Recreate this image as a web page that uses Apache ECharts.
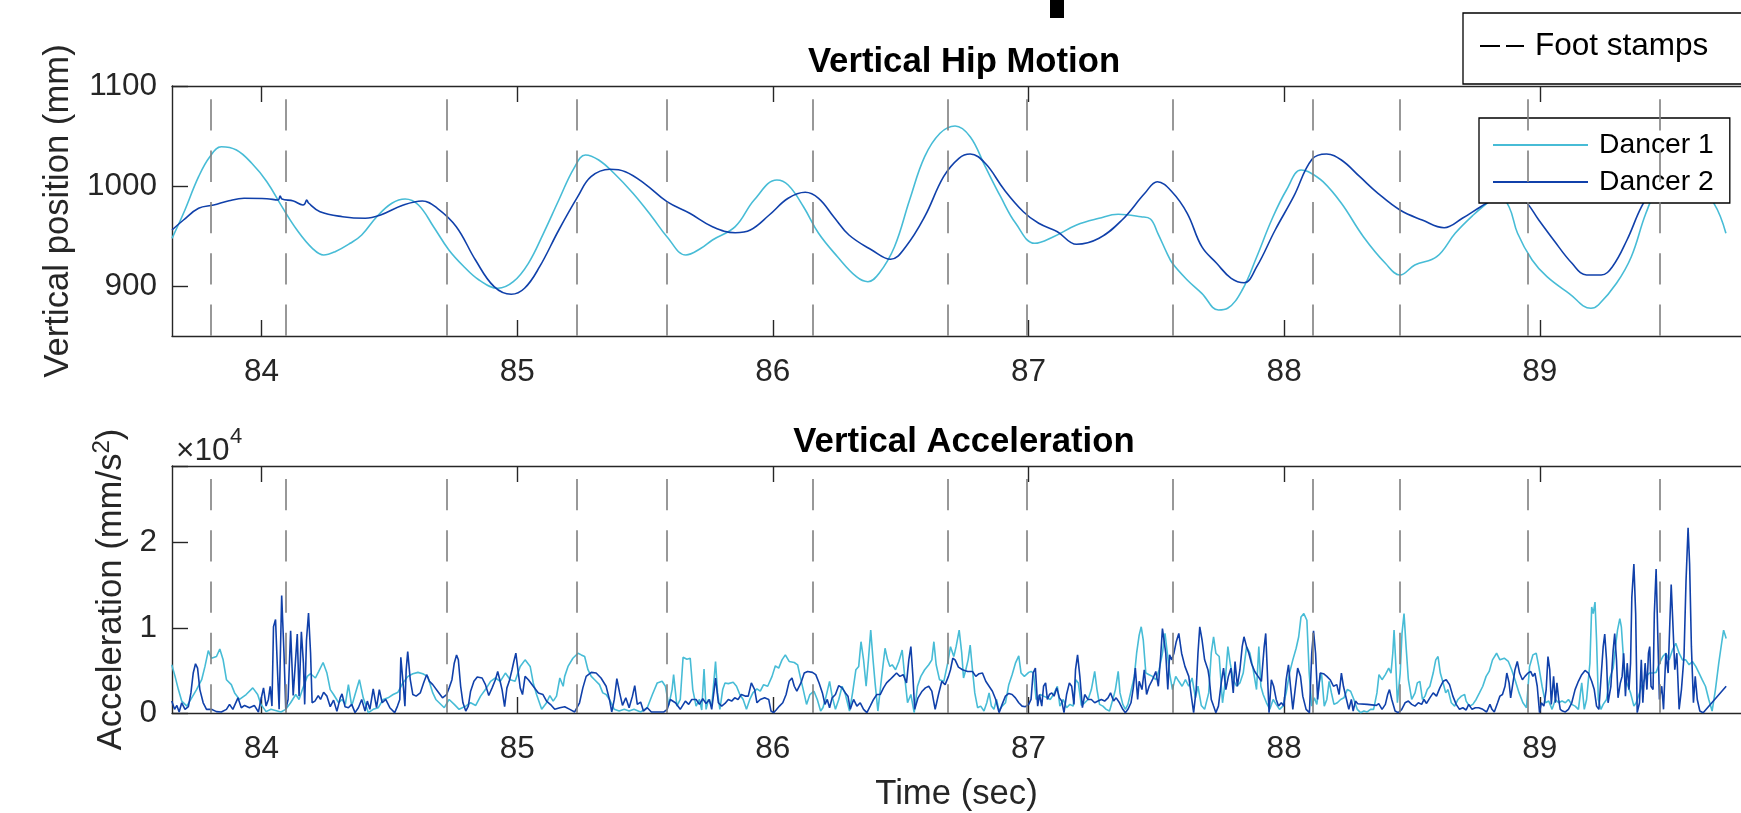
<!DOCTYPE html>
<html>
<head>
<meta charset="utf-8">
<title>Vertical Hip Motion and Acceleration</title>
<script src="https://cdn.jsdelivr.net/npm/echarts@6/dist/echarts.min.js"></script>
<style>
  html, body { margin: 0; padding: 0; background: #ffffff; }
  #main { width: 1741px; height: 813px; }
</style>
</head>
<body>
<div id="main"></div>
<script>
// ---- data ---------------------------------------------------------------
const timeTicks = [84, 85, 86, 87, 88, 89];
const hipTicks = [900, 1000, 1100];
const accTicksLabel = ['0', '1', '2'];

// foot stamp instants (sec)
const footStamps = [83.800, 84.095, 84.724, 85.235, 85.585, 86.156, 86.685,
                    86.994, 87.565, 88.110, 88.451, 88.954, 89.469];

// vertical hip position (mm) : [time, value]
const hipDancer1 = [
  [83.650,947.7],[83.695,972.7],[83.754,1009.3],[83.798,1029.3],[83.843,1039.3],[83.902,1036],
  [83.962,1022.7],[84.021,1004.3],[84.080,979.3],[84.139,956],[84.199,937.7],[84.243,931],
  [84.288,934.3],[84.347,942.7],[84.392,951],[84.451,969.3],[84.510,982.7],[84.562,987],
  [84.614,981],[84.673,959.3],[84.733,936],[84.792,919.3],[84.851,906],[84.925,897.7],
  [84.985,904.3],[85.044,922.7],[85.103,952.7],[85.163,986],[85.222,1017.7],[85.267,1031],
  [85.319,1026],[85.379,1012.7],[85.453,992.7],[85.527,969.3],[85.586,949.3],[85.660,931],
  [85.719,937.7],[85.764,946],[85.853,959.3],[85.927,986],[86.016,1006],[86.060,1001],
  [86.120,979.3],[86.179,952.7],[86.253,929.3],[86.327,909.3],[86.372,904.3],[86.416,912.7],
  [86.476,939.3],[86.535,986],[86.594,1029.3],[86.654,1052.7],[86.713,1060],[86.772,1049.3],
  [86.831,1019.3],[86.891,989.3],[86.950,962.7],[87.024,942.7],[87.098,949.3],[87.188,961],
  [87.276,967.7],[87.351,971.7],[87.440,969.3],[87.477,967],[87.506,952.7],[87.542,932.7],
  [87.563,922.7],[87.621,906],[87.678,892.7],[87.743,876],[87.779,877.7],[87.836,896],
  [87.893,929.3],[87.951,966],[88.009,996],[88.066,1016],[88.095,1014.3],[88.152,1004.3],
  [88.224,982.7],[88.310,949.3],[88.396,922.7],[88.453,911],[88.511,921],[88.597,929.3],
  [88.669,952.7],[88.740,971],[88.800,984],[88.841,990],[88.880,979],[88.913,952.7],
  [88.970,926],[89.028,909.3],[89.114,892.7],[89.200,877.7],[89.229,881],[89.300,902.7],
  [89.358,929.3],[89.415,972.7],[89.470,1003],[89.530,1016],[89.600,1005],[89.681,982.7],
  [89.728,952.7]
];
const hipDancer2 = [
  [83.650,956],[83.695,966],[83.754,977.7],[83.813,981],[83.873,985.3],[83.932,987.7],
  [84.021,987.3],[84.065,986],[84.073,990],[84.080,987],[84.125,985],[84.162,981],
  [84.169,982],[84.177,986],[84.184,983],[84.229,974.3],[84.317,969.3],[84.406,967.7],
  [84.466,971],[84.555,981],[84.629,985],[84.688,977.7],[84.762,959.3],[84.837,926],
  [84.910,899.3],[84.977,891.7],[85.029,897.7],[85.088,919.3],[85.163,956],[85.237,989.3],
  [85.289,1009.3],[85.363,1016.7],[85.423,1014.3],[85.497,1002.7],[85.586,984.3],[85.675,972.7],
  [85.764,959.3],[85.853,953.3],[85.912,956],[85.986,971],[86.060,987.7],[86.127,993.7],
  [86.179,987.7],[86.238,969.3],[86.298,951],[86.387,936],[86.461,926.7],[86.520,939.3],
  [86.594,969.3],[86.668,1009.3],[86.728,1027.7],[86.772,1032],[86.831,1022.7],[86.906,996],
  [86.980,974.3],[87.040,962.7],[87.113,954.3],[87.188,941.7],[87.276,947.7],[87.366,966],
  [87.455,992.7],[87.504,1004.3],[87.561,994.3],[87.621,972.7],[87.678,939.3],[87.736,922.7],
  [87.793,907.7],[87.844,903.3],[87.893,919.3],[87.965,956],[88.037,989.3],[88.109,1026.7],
  [88.166,1032],[88.224,1026],[88.296,1009.3],[88.367,992.7],[88.453,976],[88.540,966],
  [88.626,958.3],[88.697,967.7],[88.769,979.3],[88.841,989.3],[88.890,992],[88.939,986],
  [88.996,966],[89.054,946],[89.126,922.7],[89.183,911],[89.240,911],[89.284,919.3],
  [89.341,946],[89.398,979.3],[89.460,1005],[89.520,1020],[89.580,1027],[89.657,1022.7],
  [89.728,996]
];

// vertical acceleration (mm/s^2) : [time, value]
const accDancer1 = [
  [83.649,5660],[83.662,4300],[83.675,2750],[83.688,1400],[83.708,810],[83.727,1780],[83.746,2750],
  [83.766,3910],[83.779,5470],[83.792,7330],[83.804,6430],[83.824,6630],[83.837,7520],[83.850,6240],
  [83.863,3910],[83.882,3330],[83.895,2360],[83.914,1590],[83.940,2170],[83.966,2950],[83.985,2170],
  [83.998,1010],[84.018,160],[84.037,430],[84.076,120],[84.095,430],[84.114,1200],[84.134,2170],
  [84.147,1590],[84.160,2750],[84.179,4300],[84.192,4610],[84.211,4110],[84.224,4880],[84.241,5930],
  [84.256,4690],[84.269,2750],[84.282,2170],[84.302,1200],[84.315,1590],[84.328,1010],[84.340,3330],
  [84.353,810],[84.366,2170],[84.383,3910],[84.398,1780],[84.418,40],[84.437,430],[84.457,620],
  [84.476,1590],[84.495,1780],[84.515,2170],[84.534,2440],[84.553,3530],[84.573,4300],[84.592,4610],
  [84.612,4770],[84.631,4610],[84.650,4300],
  [84.670,2360],[84.682,1590],[84.715,620],[84.734,1590],[84.754,1010],[84.773,430],[84.799,810],
  [84.818,1200],[84.838,890],[84.857,1980],[84.876,2750],[84.896,3720],[84.915,4110],[84.934,3720],
  [84.954,4690],[84.973,3910],[84.992,3720],[85.012,5470],[85.031,6240],[85.051,5470],[85.063,3530],
  [85.076,2170],[85.096,430],[85.115,1200],[85.128,2050],[85.141,1400],[85.154,1980],[85.167,4110],
  [85.180,3140],[85.186,4300],[85.199,5470],[85.218,6430],[85.238,7020],[85.251,6820],[85.264,6630],
  [85.277,5080],[85.290,4300],[85.303,3910],[85.322,3330],[85.335,2360],[85.348,2170],[85.361,1590],
  [85.380,430],[85.399,230],[85.419,430],[85.438,230],[85.457,430],[85.483,120],[85.509,620],
  [85.529,2170],[85.548,3530],[85.567,3720],[85.580,3140],[85.593,890],[85.606,2750],[85.612,4500],
  [85.625,810],[85.638,1590],[85.649,6550],[85.664,6320],[85.677,6430],
  [85.687,2750],[85.700,810],[85.713,1590],[85.722,350],[85.731,5160],[85.739,430],[85.748,1590],
  [85.761,810],[85.770,3910],[85.776,6050],[85.784,2360],[85.793,430],[85.804,2750],[85.813,3530],
  [85.826,3450],[85.845,3600],[85.858,3140],[85.871,2170],[85.884,1590],[85.897,430],[85.910,1590],
  [85.922,2360],[85.938,2830],[85.951,2560],[85.964,3330],[85.980,3140],[85.997,4300],[86.010,5540],
  [86.023,5270],[86.036,6240],[86.049,6820],[86.064,6050],[86.084,5930],[86.097,5660],[86.107,4300],
  [86.119,2750],[86.132,1010],[86.145,2170],[86.161,2560],[86.174,1590],[86.187,230],[86.196,620],
  [86.207,1780],[86.222,3720],[86.232,1980],[86.245,430],[86.258,1590],[86.271,3140],[86.284,2170],
  [86.300,230],[86.312,2360],[86.325,5080],[86.336,5470],[86.345,8370],[86.355,6240],[86.365,3140],
  [86.374,6240],[86.383,9730],[86.391,6630],[86.400,3530],[86.411,230],[86.426,4300],[86.439,7600],
  [86.449,6240],[86.458,5470],[86.467,5660],[86.480,5080],[86.493,6050],[86.506,7400],[86.517,3910],
  [86.527,1200],[86.540,2170],[86.553,40],[86.566,3140],[86.579,4300],[86.594,5080],[86.610,5660],
  [86.622,6240],[86.630,8370],[86.639,5660],[86.652,3910],[86.669,3720],[86.684,5850],[86.695,7790],
  [86.708,6630],[86.717,7790],[86.729,9730],[86.739,7020],[86.746,4110],[86.755,5080],[86.764,6240],
  [86.772,7980],[86.781,5080],[86.790,2360],[86.801,620],[86.813,810],[86.826,230],[86.837,1200],
  [86.846,2360],[86.855,810],[86.865,430],[86.875,1590],[86.885,230],[86.897,810],[86.910,1200],
  [86.923,3330],[86.936,4500],[86.949,5850],[86.962,6710],[86.971,4690],[86.984,4300],[87.001,4770],
  [87.010,4880],[87.020,4690],[87.030,1590],[87.046,2170],[87.059,1980],[87.074,1780],[87.085,1590],
  [87.098,2170],[87.113,3140],[87.123,810],[87.136,1590],[87.149,620],[87.162,1010],[87.175,810],
  [87.185,3910],[87.195,3530],[87.207,890],[87.220,1200],[87.233,1590],[87.246,2750],[87.259,4880],
  [87.268,2750],[87.278,1010],[87.291,810],[87.304,430],[87.317,230],[87.330,1590],[87.340,2750],
  [87.351,4880],[87.358,2360],[87.369,1010],[87.379,430],[87.389,1010],[87.401,2560],[87.414,4300],
  [87.423,7020],[87.433,9150],[87.441,10120],[87.449,8570],[87.459,4690],[87.472,4500],[87.485,4300],
  [87.498,3910],[87.511,5080],[87.524,7020],[87.534,9340],[87.543,7020],[87.552,4690],[87.563,2750],
  [87.576,4300],[87.588,3720],[87.601,3140],[87.614,3910],[87.627,3140],[87.640,4110],[87.653,1780],
  [87.663,3140],[87.676,890],[87.689,430],
  [87.705,2360],[87.715,7020],[87.724,8950],[87.733,7020],[87.746,6630],[87.759,1200],[87.769,3530],
  [87.780,7790],[87.789,5850],[87.801,3910],[87.814,3140],[87.827,3530],[87.840,4690],[87.853,7790],
  [87.866,7020],[87.879,5080],[87.892,2750],[87.901,7790],[87.909,3140],[87.918,2170],[87.931,1200],
  [87.944,430],[87.957,1590],[87.969,1010],[87.982,430],[87.995,810],[88.008,2360],[88.021,4690],
  [88.034,6240],[88.047,7600],[88.057,8950],[88.066,11280],[88.077,11670],[88.083,11860],[88.089,10890],
  [88.098,4690],[88.108,810],[88.118,1780],[88.128,1010],[88.137,3530],[88.146,4690],[88.157,810],
  [88.167,1590],[88.176,3720],[88.185,2360],[88.195,1010],[88.208,1200],[88.221,1590],[88.234,1780],
  [88.247,2750],[88.260,2560],[88.273,1590],[88.286,430],[88.299,40],[88.312,230],[88.325,120],
  [88.338,430],[88.350,430],[88.363,2360],[88.371,4500],[88.383,3910],[88.396,4500],[88.409,5270],
  [88.418,4690],[88.425,7020],[88.430,9730],[88.436,6240],[88.443,1200],[88.454,4690],[88.461,9340],
  [88.469,11670],[88.477,7790],[88.486,3910],[88.499,1590],[88.512,2360],[88.521,3530],[88.531,3720],
  [88.541,1590],[88.551,1980],[88.560,2750],[88.570,3140],[88.583,4690],[88.593,6240],[88.602,6630],
  [88.611,4690],[88.622,3530],[88.632,2360],[88.641,2750],[88.654,1200],[88.667,810],[88.680,1590],
  [88.693,1980],[88.706,2170],
  [88.712,1400],[88.725,810],[88.738,1010],[88.751,1590],[88.764,2360],[88.777,3140],[88.790,4300],
  [88.802,4880],[88.815,6240],[88.831,7020],[88.844,6240],[88.861,6430],[88.877,6050],[88.890,5080],
  [88.903,3910],[88.919,2360],[88.934,1200],[88.948,620],[88.960,5470],[88.973,6820],[88.986,7020],
  [88.996,5470],[89.009,3140],[89.022,1200],[89.035,1400],[89.048,430],[89.061,1590],[89.074,1200],
  [89.087,1400],[89.100,1200],[89.112,1590],[89.125,1010],[89.138,810],[89.151,430],[89.164,3530],
  [89.174,430],[89.183,1590],[89.196,5850],[89.203,12440],[89.209,11670],[89.216,13020],[89.222,8570],
  [89.229,1590],[89.239,430],[89.248,1010],[89.261,1590],[89.274,4110],[89.287,5270],[89.296,7790],
  [89.304,9730],[89.313,11090],[89.319,10120],[89.326,7020],[89.335,3910],[89.345,3140],[89.355,2360],
  [89.368,810],[89.377,1200],[89.390,2360],[89.403,3530],[89.416,4300],[89.429,4690],[89.442,4690],
  [89.455,4770],[89.468,5850],[89.481,6630],[89.493,7020],[89.506,6240],[89.519,7400],[89.532,8180],
  [89.545,7020],[89.558,6240],[89.571,6240],[89.584,5660],[89.597,6050],[89.610,5470],[89.623,4690],
  [89.635,3910],[89.648,3140],[89.661,1590],[89.674,230],[89.687,2750],[89.700,5850],[89.713,8570],
  [89.719,9730],[89.729,8760]
];
const accDancer2 = [
  [83.649,1400],[83.660,430],[83.669,890],[83.678,120],[83.688,1200],[83.701,430],[83.714,740],
  [83.724,2360],[83.733,4690],[83.742,5780],[83.750,5270],[83.759,2750],[83.772,1200],[83.785,430],
  [83.804,430],[83.824,160],[83.843,120],[83.863,430],[83.875,1010],[83.888,430],[83.908,1780],
  [83.921,620],[83.934,890],[83.953,620],[83.972,890],[83.988,120],[83.998,1590],[84.008,2950],
  [84.018,810],[84.027,1590],[84.034,3140],[84.041,810],[84.047,10120],[84.055,10970],[84.063,4690],
  [84.069,430],[84.079,13800],[84.088,7020],[84.095,430],[84.104,1590],[84.114,9650],[84.124,2050],
  [84.131,2170],[84.140,9260],[84.147,1980],[84.156,9540],[84.164,5850],[84.169,1010],[84.176,8570],
  [84.184,11740],[84.192,7020],[84.198,1200],[84.209,1400],[84.222,2050],[84.231,1590],[84.243,2440],
  [84.256,1980],[84.269,740],[84.282,1510],[84.295,190],[84.308,1780],[84.315,2250],[84.327,740],
  [84.340,620],[84.353,1010],[84.366,40],[84.379,620],[84.392,1590],[84.405,230],[84.414,1400],
  [84.424,430],[84.437,2830],[84.450,620],[84.461,2750],[84.472,1200],[84.486,1590],[84.502,620],
  [84.521,40],[84.532,810],[84.541,1590],[84.545,6550],[84.550,6630],[84.556,2750],[84.561,810],
  [84.566,5080],[84.572,7210],[84.577,7020],[84.582,3910],[84.592,2170],[84.605,1980],[84.621,2360],
  [84.634,3530],[84.646,4500],
  [84.657,3720],[84.670,3330],[84.689,2560],[84.708,1780],[84.724,2170],[84.734,2950],[84.745,3910],
  [84.754,5850],[84.763,6820],[84.770,6240],[84.779,3140],[84.788,1200],[84.799,230],[84.809,810],
  [84.818,2560],[84.831,3720],[84.844,4220],[84.863,4110],[84.876,3330],[84.889,2050],[84.902,2950],
  [84.915,3910],[84.924,4880],[84.932,3910],[84.941,2750],[84.951,740],[84.960,2950],[84.969,3720],
  [84.980,5080],[84.987,6050],[84.995,7020],[85.003,5080],[85.012,2950],[85.021,2170],[85.031,4300],
  [85.044,3910],[85.063,3140],[85.083,2360],[85.101,2170],[85.115,1400],[85.134,890],[85.147,430],
  [85.167,620],[85.186,740],[85.206,430],[85.225,120],[85.231,120],[85.244,1200],[85.257,2950],
  [85.270,4300],[85.290,4770],[85.309,4690],[85.328,4110],[85.348,3140],[85.361,1590],[85.370,120],
  [85.380,1590],[85.390,4030],[85.401,2360],[85.412,890],[85.425,1780],[85.438,620],[85.451,1980],
  [85.460,3220],[85.470,1010],[85.483,1280],[85.494,230],[85.509,620],[85.525,120],[85.548,120],
  [85.574,120],[85.587,430],[85.599,1590],[85.619,1200],[85.638,430],[85.658,1400],[85.671,1010],
  [85.683,1590],
  [85.700,1590],[85.713,1010],[85.726,1670],[85.739,1120],[85.752,1590],[85.761,430],[85.770,2560],
  [85.776,4110],[85.787,1200],[85.800,810],[85.813,1120],[85.826,1590],[85.839,1400],[85.851,1780],
  [85.864,1590],[85.877,2170],[85.894,1980],[85.904,1980],[85.916,3530],[85.929,2750],[85.938,1200],
  [85.951,1590],[85.968,1780],[85.984,1590],[85.993,230],[86.003,40],[86.013,350],[86.026,810],
  [86.039,1200],[86.052,2170],[86.064,3720],[86.075,4110],[86.084,3140],[86.094,2560],[86.110,3530],
  [86.123,4690],[86.136,4880],[86.155,4770],[86.168,4500],[86.181,3530],[86.194,2360],[86.204,1010],
  [86.213,1590],[86.222,620],[86.232,1780],[86.245,2170],[86.258,3220],[86.271,2950],[86.284,2360],
  [86.294,1980],[86.303,430],[86.316,1590],[86.329,810],[86.342,1200],[86.355,430],[86.368,40],
  [86.381,810],[86.394,1590],[86.407,2170],[86.420,2170],[86.433,2950],[86.445,3530],[86.458,3910],
  [86.471,4300],[86.484,4690],[86.497,4300],[86.510,4500],[86.523,3530],[86.532,6240],[86.540,7790],
  [86.548,4300],[86.555,430],[86.568,1780],[86.584,2560],[86.597,2950],[86.610,3140],[86.622,2560],
  [86.635,430],[86.648,2170],[86.661,3720],[86.674,3330],[86.687,4300],
  [86.695,5080],[86.704,6430],[86.713,6240],[86.726,5390],[86.742,5080],[86.762,4880],[86.781,4880],
  [86.794,4300],[86.807,4610],[86.820,4690],[86.833,3720],[86.846,3140],[86.859,2560],[86.872,1590],
  [86.885,40],[86.897,1010],[86.910,1980],[86.923,2290],[86.936,2170],[86.949,1780],[86.962,1200],
  [86.975,810],[86.988,740],[87.001,1010],[87.010,1590],[87.018,4690],[87.027,5270],[87.036,810],
  [87.043,2170],[87.052,810],[87.059,3140],[87.067,3530],[87.074,1590],[87.082,2170],[87.091,2360],
  [87.100,1980],[87.111,2950],[87.121,1780],[87.130,1400],[87.139,40],[87.149,2170],[87.160,3530],
  [87.169,3140],[87.178,1010],[87.184,5080],[87.192,6820],[87.201,4300],[87.211,620],[87.220,2170],
  [87.233,1590],[87.246,1590],[87.259,1200],[87.272,1400],[87.285,1590],[87.298,1400],[87.311,1780],
  [87.321,2360],[87.333,1400],[87.343,1780],[87.356,1200],[87.369,430],[87.379,40],[87.389,430],
  [87.401,1200],[87.410,2950],[87.418,5270],[87.427,1590],[87.433,3720],[87.444,2750],[87.453,5080],
  [87.462,2170],[87.472,3140],[87.485,3910],[87.498,4880],[87.508,3140],[87.517,6630],[87.524,9920],
  [87.530,9730],[87.537,7020],[87.545,2750],[87.552,6820],[87.560,6240],[87.569,7020],[87.578,8370],
  [87.588,9340],[87.599,7020],[87.612,5470],[87.627,4300],[87.637,1980],[87.646,40],[87.656,2750],
  [87.663,7020],[87.670,10120],[87.679,8570],[87.689,6240],[87.702,5080],
  [87.707,4110],[87.715,1590],[87.724,810],[87.733,40],[87.743,810],[87.754,3530],[87.763,5270],
  [87.772,2750],[87.782,4300],[87.792,5270],[87.801,2360],[87.808,6050],[87.817,3140],[87.827,5080],
  [87.836,7790],[87.843,8950],[87.853,7790],[87.862,7020],[87.872,5850],[87.885,4880],[87.898,4300],
  [87.911,3720],[87.922,7790],[87.928,9340],[87.934,5080],[87.941,40],[87.950,3910],[87.959,3140],
  [87.969,1590],[87.978,810],[87.989,1200],[87.999,810],[88.008,3910],[88.017,5660],[88.025,3140],
  [88.034,430],[88.043,2750],[88.053,5270],[88.064,4300],[88.073,1980],[88.086,430],[88.099,40],
  [88.108,7020],[88.115,9650],[88.123,7020],[88.131,1590],[88.141,4690],[88.154,4610],[88.167,4300],
  [88.180,3910],[88.193,3140],[88.206,3330],[88.215,2170],[88.224,4690],[88.232,3140],[88.244,1590],
  [88.253,430],[88.263,1590],[88.270,230],[88.279,1400],[88.288,1090],[88.325,1010],[88.361,890],
  [88.370,1090],[88.383,430],[88.396,1010],[88.405,2170],[88.412,2750],[88.421,1590],[88.434,230],
  [88.447,40],[88.460,430],[88.473,1200],[88.486,1400],[88.499,1010],[88.512,810],[88.525,1200],
  [88.538,1010],[88.547,1590],[88.557,1120],[88.570,1780],[88.583,2360],[88.596,1980],[88.609,2950],
  [88.622,3720],[88.634,3910],[88.647,3330],[88.660,1980],[88.673,1010],[88.686,430],[88.699,620],
  [88.712,350],
  [88.722,1010],[88.735,430],[88.748,620],[88.761,620],[88.777,430],[88.792,120],[88.805,1010],
  [88.813,430],[88.822,120],[88.835,1200],[88.844,1980],[88.854,2170],[88.864,3140],[88.871,4690],
  [88.880,3530],[88.886,1780],[88.895,3530],[88.903,5080],[88.912,6050],[88.921,4690],[88.932,3910],
  [88.942,4300],[88.954,4690],[88.964,4880],[88.973,4300],[88.981,4690],[88.990,3140],[88.999,40],
  [89.006,1200],[89.016,810],[89.025,2750],[89.032,6630],[89.039,5080],[89.045,1010],[89.054,4300],
  [89.061,1200],[89.067,3530],[89.074,1590],[89.080,430],[89.089,230],[89.100,120],[89.112,430],
  [89.125,1200],[89.138,2750],[89.151,3720],[89.164,4500],[89.177,5000],[89.190,4690],[89.203,3720],
  [89.213,2750],[89.222,810],[89.231,430],[89.239,3910],[89.248,7790],[89.254,9260],[89.261,6240],
  [89.267,1200],[89.278,3140],[89.287,7400],[89.293,9340],[89.300,6240],[89.306,1780],[89.315,3530],
  [89.322,4300],[89.328,7020],[89.335,1980],[89.342,5850],[89.349,2750],[89.355,5850],[89.360,13600],
  [89.368,17480],[89.375,11670],[89.381,40],[89.390,1200],[89.397,6240],[89.403,1200],[89.412,5850],
  [89.419,2750],[89.425,7020],[89.430,7790],[89.435,3140],[89.443,2750],[89.448,11670],[89.455,16900],
  [89.461,9730],[89.468,1590],[89.477,3140],[89.484,430],[89.493,7020],[89.502,4690],[89.509,10890],
  [89.514,15080],[89.520,10890],[89.528,5080],[89.536,7020],[89.545,430],[89.554,2750],[89.564,6630],
  [89.572,15540],[89.580,21750],[89.586,17480],[89.593,7790],[89.601,1200],[89.608,4300],[89.616,1590],
  [89.626,230],[89.639,40],[89.729,3140]
];

// ---- styling ------------------------------------------------------------
const FONT = '"Liberation Sans", Arial, Helvetica, sans-serif';
const AXIS_COLOR = '#262626';
const COLOR_D1 = '#47BCD6';
const COLOR_D2 = '#1040AA';
const STAMP_COLOR = '#7f7f7f';
const X_MIN = 83.65;
const X_MAX = 89.787;
const HIP_MIN = 850, HIP_MAX = 1100, HIP_STAMP_TOP = 1086.7;
const ACC_MIN = 0, ACC_MAX = 29000, ACC_STAMP_TOP = 27480;

const TICK_FONT = 31.5;
const LABEL_FONT = 34.7;

const lineAxis = { show: true, onZero: false, lineStyle: { color: AXIS_COLOR, width: 1.4 } };

function timeAxes(gridIndex, withName) {
  const base = {
    gridIndex, type: 'value', min: X_MIN, max: X_MAX,
    axisLine: lineAxis,
    splitLine: { show: false },
    axisTick: { show: true, inside: true, length: 16, customValues: timeTicks,
                lineStyle: { color: AXIS_COLOR, width: 1.4 } }
  };
  const bottom = Object.assign({}, base, {
    position: 'bottom',
    axisLabel: { show: true, customValues: timeTicks, margin: 20, fontSize: TICK_FONT,
                 color: AXIS_COLOR, fontFamily: FONT, formatter: v => String(v) }
  });
  if (withName) {
    Object.assign(bottom, {
      name: 'Time (sec)', nameLocation: 'middle', nameGap: 64,
      nameTextStyle: { fontSize: LABEL_FONT, color: AXIS_COLOR, fontFamily: FONT }
    });
  }
  const top = Object.assign({}, base, { position: 'top', axisLabel: { show: false } });
  return [bottom, top];
}

function stampLines(yTop, yBottom) {
  return footStamps.map(t => [{ coord: [t, yTop] }, { coord: [t, yBottom] }]);
}

function stampSeries(xIdx, yIdx, yTop, yBottom) {
  return {
    name: 'Foot stamps', type: 'line', xAxisIndex: xIdx, yAxisIndex: yIdx,
    data: [], symbol: 'none', showSymbol: false, z: 1,
    lineStyle: { color: '#000000', width: 1.6, type: [20, 6] },
    itemStyle: { color: '#000000' },
    markLine: {
      silent: true, symbol: ['none', 'none'], animation: false,
      label: { show: false }, emphasis: { disabled: true },
      lineStyle: { color: STAMP_COLOR, width: 1.6, type: [31.3, 20] },
      data: stampLines(yTop, yBottom)
    }
  };
}

function dancerSeries(name, data, color, xIdx, yIdx, z, smooth) {
  return {
    name, type: 'line', data, xAxisIndex: xIdx, yAxisIndex: yIdx,
    symbol: 'none', showSymbol: false, z,
    smooth: smooth || false,
    lineStyle: { color, width: 1.6 }, itemStyle: { color },
    emphasis: { disabled: true }
  };
}

// legend icons: line only, no marker in the middle
const legendLineOnly = { opacity: 0 };

const chart = echarts.init(document.getElementById('main'), null, { renderer: 'canvas' });

const option = {
  animation: false,
  backgroundColor: '#ffffff',
  title: [
    { text: 'Vertical Hip Motion', left: 964, top: 45, textAlign: 'center', padding: 0,
      textStyle: { fontSize: LABEL_FONT, fontWeight: 'bold', color: '#000000', fontFamily: FONT } },
    { text: 'Vertical Acceleration', left: 964, top: 425, textAlign: 'center', padding: 0,
      textStyle: { fontSize: LABEL_FONT, fontWeight: 'bold', color: '#000000', fontFamily: FONT } }
  ],
  legend: [
    { data: ['Foot stamps'], left: 1463, top: 13, orient: 'horizontal',
      itemWidth: 44, itemHeight: 14, padding: [15, 60, 20, 16],
      itemStyle: legendLineOnly,
      backgroundColor: '#ffffff', borderColor: '#000000', borderWidth: 1.3, borderRadius: 0,
      selectedMode: false,
      textStyle: { fontSize: TICK_FONT, lineHeight: 36, color: '#000000', fontFamily: FONT,
                   padding: [0, 0, 0, 6] } },
    { data: ['Dancer 1', 'Dancer 2'], left: 1479, top: 118, orient: 'vertical',
      itemWidth: 95, itemHeight: 14, itemGap: 7, padding: [12, 16, 6, 13],
      itemStyle: legendLineOnly,
      backgroundColor: '#ffffff', borderColor: '#000000', borderWidth: 1.3, borderRadius: 0,
      selectedMode: false,
      textStyle: { fontSize: 28.3, lineHeight: 30, color: '#000000', fontFamily: FONT,
                   padding: [0, 0, 0, 6] } }
  ],
  grid: [
    { left: 172, top: 86, width: 1584, height: 250 },
    { left: 172, top: 466, width: 1584, height: 249.3 }
  ],
  xAxis: [].concat(timeAxes(0, false), timeAxes(1, true)),
  yAxis: [
    { gridIndex: 0, type: 'value', min: HIP_MIN, max: HIP_MAX,
      axisLine: lineAxis, splitLine: { show: false },
      axisTick: { show: true, inside: true, length: 16, customValues: hipTicks,
                  lineStyle: { color: AXIS_COLOR, width: 1.4 } },
      axisLabel: { show: true, customValues: hipTicks, margin: 15, fontSize: TICK_FONT,
                   color: AXIS_COLOR, fontFamily: FONT, formatter: v => String(v) },
      name: 'Vertical position (mm)', nameLocation: 'middle', nameRotate: 90, nameGap: 80,
      nameTextStyle: { fontSize: LABEL_FONT, color: AXIS_COLOR, fontFamily: FONT } },
    { gridIndex: 1, type: 'value', min: ACC_MIN, max: ACC_MAX, interval: 10000,
      axisLine: lineAxis, splitLine: { show: false },
      axisTick: { show: true, inside: true, length: 16,
                  lineStyle: { color: AXIS_COLOR, width: 1.4 } },
      axisLabel: { show: true, margin: 15, fontSize: TICK_FONT, color: AXIS_COLOR, fontFamily: FONT,
                   formatter: v => accTicksLabel[Math.round(v / 10000)] },
      name: '{n|Acceleration (mm/s}{s|2}{n|)}', nameLocation: 'middle', nameRotate: 90, nameGap: 39,
      nameTextStyle: { color: AXIS_COLOR, fontFamily: FONT, fontSize: LABEL_FONT,
        rich: {
          n: { fontSize: LABEL_FONT, color: AXIS_COLOR, fontFamily: FONT, lineHeight: 42 },
          s: { fontSize: 24, color: AXIS_COLOR, fontFamily: FONT, verticalAlign: 'top', lineHeight: 24 }
        } } }
  ],
  graphic: [
    { type: 'rect', silent: true, shape: { x: 1050, y: 0, width: 14, height: 18 },
      style: { fill: '#000000' } },
    { type: 'text', silent: true, x: 176, y: 451,
      style: { text: '×10', fontSize: TICK_FONT, fontFamily: FONT, fill: AXIS_COLOR,
               align: 'left', verticalAlign: 'middle' } },
    { type: 'text', silent: true, x: 230, y: 437,
      style: { text: '4', fontSize: 22, fontFamily: FONT, fill: AXIS_COLOR,
               align: 'left', verticalAlign: 'middle' } }
  ],
  series: [
    stampSeries(0, 0, HIP_STAMP_TOP, HIP_MIN),
    dancerSeries('Dancer 1', hipDancer1, COLOR_D1, 0, 0, 2, 0.4),
    dancerSeries('Dancer 2', hipDancer2, COLOR_D2, 0, 0, 3, 0.4),
    stampSeries(2, 1, ACC_STAMP_TOP, ACC_MIN),
    dancerSeries('Dancer 1', accDancer1, COLOR_D1, 2, 1, 2, 0),
    dancerSeries('Dancer 2', accDancer2, COLOR_D2, 2, 1, 3, 0)
  ]
};

chart.setOption(option);
</script>
</body>
</html>
